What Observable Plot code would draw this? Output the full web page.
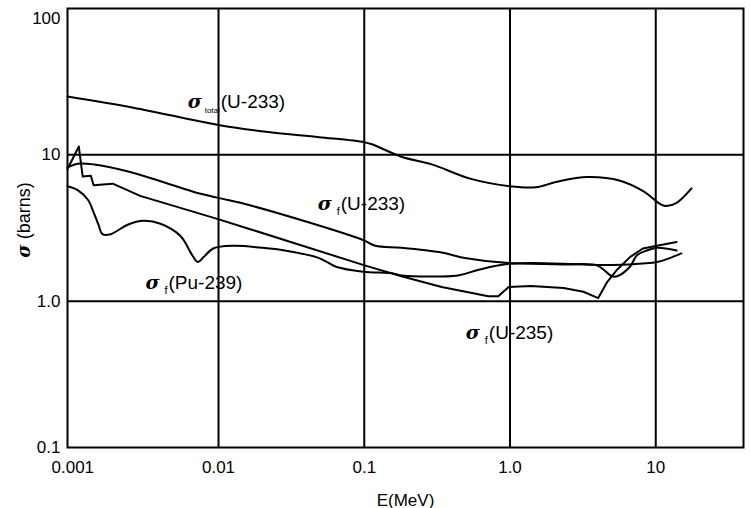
<!DOCTYPE html>
<html><head><meta charset="utf-8">
<script src="https://cdn.jsdelivr.net/npm/d3@7"></script>
<script src="https://cdn.jsdelivr.net/npm/@observablehq/plot@0.6"></script>
<style>
body{margin:0;background:#fff}
#chart svg{display:block}
</style></head><body><div id="chart"></div>
<script>
// ---- data ----
const xTicks = [0.001, 0.01, 0.1, 1, 10];
const xTickLabels = ["0.001", "0.01", "0.1", "1.0", "10"];
const yTicks = [0.1, 1, 10, 100];
const yTickLabels = ["0.1", "1.0", "10", "100"];
const xGrid = [0.01, 0.1, 1, 10];
const yGrid = [1, 10];

// sigma_total (U-233)
const totalE = [0.00092, 0.0026, 0.01, 0.022, 0.049, 0.1, 0.113, 0.18, 0.29, 0.54, 1.0, 1.5, 2.1, 3.4, 5.7, 8.2, 10.9, 11.8, 13.9, 17.6];
const totalS = [25, 21, 16, 14.3, 13.2, 12.2, 11.8, 9.7, 8.6, 6.85, 6.1, 6.0, 6.55, 7.05, 6.65, 5.64, 4.57, 4.47, 4.7, 5.9];
// sigma_f (U-233)
const u233E = [0.00092, 0.00108, 0.0014, 0.0024, 0.004, 0.0067, 0.0098, 0.0167, 0.098, 0.119, 0.18, 0.34, 0.49, 0.98, 1.39, 2.33, 3.97, 6.35, 10.2, 12.5, 15];
const u233S = [8.2, 8.7, 8.6, 7.7, 6.6, 5.6, 5.1, 4.5, 2.62, 2.39, 2.32, 2.15, 1.97, 1.82, 1.82, 1.80, 1.77, 1.78, 1.85, 1.97, 2.12];
// sigma_f (U-235)
const u235E = [0.00092, 0.0011, 0.00117, 0.00133, 0.00139, 0.00188, 0.0029, 0.0098, 0.0167, 0.098, 0.18, 0.34, 0.71, 0.83, 0.98, 1.39, 2.33, 3.19, 4.03, 4.64, 5.43, 6.65, 8.16, 10.2, 13.9];
const u235S = [8.0, 11.4, 7.1, 7.2, 6.2, 6.35, 5.24, 3.65, 3.09, 1.77, 1.48, 1.25, 1.08, 1.08, 1.25, 1.27, 1.23, 1.16, 1.05, 1.35, 1.64, 2.0, 2.29, 2.39, 2.54];
// sigma_f (Pu-239)
const pu239E = [0.00092, 0.00108, 0.00127, 0.00139, 0.0015, 0.0016, 0.00182, 0.00238, 0.00306, 0.004, 0.0055, 0.0066, 0.0072, 0.0079, 0.0092, 0.0127, 0.0197, 0.0285, 0.049, 0.064, 0.098, 0.155, 0.18, 0.44, 0.61, 0.98, 1.39, 2.33, 3.97, 5.0, 5.43, 6.65, 7.43, 8.69, 10.2, 13.9];
const pu239S = [6.1, 5.74, 4.93, 4.05, 3.33, 2.87, 2.87, 3.33, 3.54, 3.38, 2.78, 2.06, 1.85, 2.0, 2.29, 2.39, 2.32, 2.22, 1.97, 1.72, 1.59, 1.55, 1.50, 1.50, 1.64, 1.80, 1.80, 1.78, 1.75, 1.48, 1.48, 1.72, 2.06, 2.22, 2.32, 2.22];

// curve labels: symbol | subscript | name, anchored at the start of the sigma
const labelNames = ["σ|total|(U-233)", "σ|f|(U-233)", "σ|f|(Pu-239)", "σ|f|(U-235)"];
const labelE = [0.00614, 0.0479, 0.00315, 0.497];
const labelS = [23.1, 4.65, 1.34, 0.611];

// ---- build tables ----
function table(name, E, S) { return E.map((e, i) => ({series: name, E: e, S: S[i]})); }
const smooth = [
  ...table("total U-233", totalE, totalS),
  ...table("f U-233", u233E, u233S),
  ...table("f Pu-239", pu239E, pu239S)
];
const jagged = table("f U-235", u235E, u235S);
const labels = labelNames.map((t, i) => ({t, E: labelE[i], S: labelS[i]}));

const xFmt = new Map(xTicks.map((t, i) => [t, xTickLabels[i]]));
const yFmt = new Map(yTicks.map((t, i) => [t, yTickLabels[i]]));
const FONT = '"Liberation Sans", Arial, sans-serif';

const chart = Plot.plot({
  width: 750, height: 508,
  marginLeft: 67, marginRight: 7, marginTop: 8, marginBottom: 61,
  style: {fontFamily: FONT, fontSize: "17px", color: "#000", background: "#fff"},
  x: {type: "log", domain: [0.00092, 40]},
  y: {type: "log", domain: [0.1, 100]},
  marks: [
    Plot.ruleX(xGrid, {stroke: "#000", strokeWidth: 2}),
    Plot.ruleY(yGrid, {stroke: "#000", strokeWidth: 2}),
    Plot.frame({stroke: "#000", strokeWidth: 2}),
    Plot.axisX({ticks: xTicks, tickFormat: d => xFmt.get(d), tickSize: 0, tickPadding: 13,
      label: "E(MeV)", labelArrow: "none", labelAnchor: "center", labelOffset: 58, fontSize: 17}),
    Plot.axisY({ticks: yTicks, tickFormat: d => yFmt.get(d), tickSize: 0, tickPadding: 7,
      label: null, fontSize: 17}),
    Plot.line(smooth, {x: "E", y: "S", z: "series", curve: "catmull-rom", stroke: "#000", strokeWidth: 2}),
    Plot.line(jagged, {x: "E", y: "S", z: "series", stroke: "#000", strokeWidth: 2, strokeLinejoin: "round"}),
    Plot.text(labels, {x: "E", y: "S", text: "t", textAnchor: "start", fontSize: 19})
  ]
});
document.getElementById("chart").append(chart);

const svg = d3.select(chart);
// rich formatting of curve labels (sigma bold italic + subscript)
svg.selectAll("text").filter(function() { return this.textContent.includes("|"); }).each(function() {
  const parts = this.textContent.split("|");
  const el = d3.select(this);
  el.text(null);
  el.append("tspan").attr("font-weight", "bold").attr("font-style", "italic")
    .attr("font-family", '"DejaVu Serif", serif').attr("font-size", 19).text(parts[0]);
  const longSub = parts[1].length > 1;
  el.append("tspan").attr("font-size", longSub ? 8 : 11).attr("dx", longSub ? 3 : 5).attr("dy", 5).text(parts[1]);
  el.append("tspan").attr("dy", -5).attr("dx", 1).text(parts[2]);
});
// strip any axis arrow and nudge the top tick label inside the picture
svg.selectAll("text").each(function() {
  if (this.textContent.includes("→")) this.textContent = this.textContent.replace(/\s*→/, "");
  if (this.textContent === "100") d3.select(this).attr("dy", "0.6em");
});

// y axis title
const yl = svg.append("text")
  .attr("transform", "translate(30,220) rotate(-90)")
  .attr("text-anchor", "middle")
  .attr("font-size", 18)
  .attr("fill", "#000");
yl.append("tspan").attr("font-weight", "bold").attr("font-style", "italic")
  .attr("font-family", '"DejaVu Serif", serif').text("σ");
yl.append("tspan").text(" (barns)");
</script>
</body></html>
